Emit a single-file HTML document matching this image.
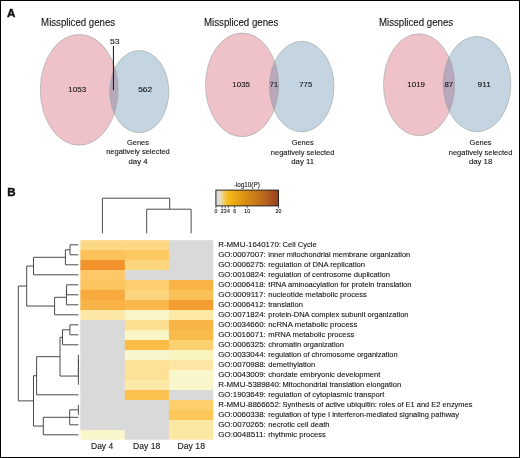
<!DOCTYPE html>
<html><head><meta charset="utf-8"><style>
html,body{margin:0;padding:0;background:#fff;width:520px;height:458px;overflow:hidden}
svg{display:block;will-change:transform}
text{font-family:"Liberation Sans", sans-serif;fill:#111;stroke:#111;stroke-width:0.1px}
</style></head><body>
<svg width="520" height="458" viewBox="0 0 520 458">
<rect width="520" height="458" fill="#fff"/>
<rect x="80.35" y="240.20" width="45.45" height="10.80" fill="#fdd886"/>
<rect x="124.80" y="240.20" width="45.10" height="10.80" fill="#fdd886"/>
<rect x="168.90" y="240.20" width="44.30" height="10.80" fill="#d9d9d9"/>
<rect x="80.35" y="250.00" width="45.45" height="11.00" fill="#fbc259"/>
<rect x="124.80" y="250.00" width="45.10" height="11.00" fill="#fdc85f"/>
<rect x="168.90" y="250.00" width="44.30" height="11.00" fill="#d9d9d9"/>
<rect x="80.35" y="260.00" width="45.45" height="11.00" fill="#f1922c"/>
<rect x="124.80" y="260.00" width="45.10" height="11.00" fill="#fdd57d"/>
<rect x="168.90" y="260.00" width="44.30" height="11.00" fill="#d9d9d9"/>
<rect x="80.35" y="270.00" width="45.45" height="11.00" fill="#fdc865"/>
<rect x="124.80" y="270.00" width="45.10" height="11.00" fill="#d9d9d9"/>
<rect x="168.90" y="270.00" width="44.30" height="11.00" fill="#d9d9d9"/>
<rect x="80.35" y="280.00" width="45.45" height="11.00" fill="#fdc55f"/>
<rect x="124.80" y="280.00" width="45.10" height="11.00" fill="#fdcf6e"/>
<rect x="168.90" y="280.00" width="44.30" height="11.00" fill="#f9b245"/>
<rect x="80.35" y="290.00" width="45.45" height="11.00" fill="#f7ab3f"/>
<rect x="124.80" y="290.00" width="45.10" height="11.00" fill="#fdd57f"/>
<rect x="168.90" y="290.00" width="44.30" height="11.00" fill="#fbc159"/>
<rect x="80.35" y="300.00" width="45.45" height="11.00" fill="#f9b246"/>
<rect x="124.80" y="300.00" width="45.10" height="11.00" fill="#fab84a"/>
<rect x="168.90" y="300.00" width="44.30" height="11.00" fill="#f59c33"/>
<rect x="80.35" y="310.00" width="45.45" height="11.00" fill="#fce8a4"/>
<rect x="124.80" y="310.00" width="45.10" height="11.00" fill="#f9f5c8"/>
<rect x="168.90" y="310.00" width="44.30" height="11.00" fill="#fde9a4"/>
<rect x="80.35" y="320.00" width="45.45" height="11.00" fill="#d9d9d9"/>
<rect x="124.80" y="320.00" width="45.10" height="11.00" fill="#fddf92"/>
<rect x="168.90" y="320.00" width="44.30" height="11.00" fill="#f9b447"/>
<rect x="80.35" y="330.00" width="45.45" height="11.00" fill="#d9d9d9"/>
<rect x="124.80" y="330.00" width="45.10" height="11.00" fill="#f9f5c6"/>
<rect x="168.90" y="330.00" width="44.30" height="11.00" fill="#fabb4c"/>
<rect x="80.35" y="340.00" width="45.45" height="11.00" fill="#d9d9d9"/>
<rect x="124.80" y="340.00" width="45.10" height="11.00" fill="#fabb47"/>
<rect x="168.90" y="340.00" width="44.30" height="11.00" fill="#fdd072"/>
<rect x="80.35" y="350.00" width="45.45" height="11.00" fill="#d9d9d9"/>
<rect x="124.80" y="350.00" width="45.10" height="11.00" fill="#f9f6ce"/>
<rect x="168.90" y="350.00" width="44.30" height="11.00" fill="#f9f3bf"/>
<rect x="80.35" y="360.00" width="45.45" height="11.00" fill="#d9d9d9"/>
<rect x="124.80" y="360.00" width="45.10" height="11.00" fill="#fde196"/>
<rect x="168.90" y="360.00" width="44.30" height="11.00" fill="#fde6a3"/>
<rect x="80.35" y="370.00" width="45.45" height="11.00" fill="#d9d9d9"/>
<rect x="124.80" y="370.00" width="45.10" height="11.00" fill="#fde196"/>
<rect x="168.90" y="370.00" width="44.30" height="11.00" fill="#f9f6cb"/>
<rect x="80.35" y="380.00" width="45.45" height="11.00" fill="#d9d9d9"/>
<rect x="124.80" y="380.00" width="45.10" height="11.00" fill="#fce9a8"/>
<rect x="168.90" y="380.00" width="44.30" height="11.00" fill="#f9f6cb"/>
<rect x="80.35" y="390.00" width="45.45" height="11.00" fill="#d9d9d9"/>
<rect x="124.80" y="390.00" width="45.10" height="11.00" fill="#fbc04d"/>
<rect x="168.90" y="390.00" width="44.30" height="11.00" fill="#d9d9d9"/>
<rect x="80.35" y="400.00" width="45.45" height="11.00" fill="#d9d9d9"/>
<rect x="124.80" y="400.00" width="45.10" height="11.00" fill="#d9d9d9"/>
<rect x="168.90" y="400.00" width="44.30" height="11.00" fill="#fdcf6c"/>
<rect x="80.35" y="410.00" width="45.45" height="11.00" fill="#d9d9d9"/>
<rect x="124.80" y="410.00" width="45.10" height="11.00" fill="#d9d9d9"/>
<rect x="168.90" y="410.00" width="44.30" height="11.00" fill="#fdc75a"/>
<rect x="80.35" y="420.00" width="45.45" height="11.00" fill="#d9d9d9"/>
<rect x="124.80" y="420.00" width="45.10" height="11.00" fill="#d9d9d9"/>
<rect x="168.90" y="420.00" width="44.30" height="11.00" fill="#fbe8a2"/>
<rect x="80.35" y="430.00" width="45.45" height="9.70" fill="#f9f6cc"/>
<rect x="124.80" y="430.00" width="45.10" height="9.70" fill="#d9d9d9"/>
<rect x="168.90" y="430.00" width="44.30" height="9.70" fill="#fbe8a2"/>
<text x="218.20" y="247.20" font-size="8.0" textLength="62.80" lengthAdjust="spacingAndGlyphs">R-MMU-1640170:</text>
<text x="282.60" y="247.20" font-size="8.0" textLength="34.00" lengthAdjust="spacingAndGlyphs">Cell Cycle</text>
<text x="218.20" y="257.16" font-size="8.0" textLength="47.60" lengthAdjust="spacingAndGlyphs">GO:0007007:</text>
<text x="268.30" y="257.16" font-size="8.0" textLength="141.80" lengthAdjust="spacingAndGlyphs">inner mitochondrial membrane organization</text>
<text x="218.20" y="267.13" font-size="8.0" textLength="47.60" lengthAdjust="spacingAndGlyphs">GO:0006275:</text>
<text x="268.30" y="267.13" font-size="8.0" textLength="96.80" lengthAdjust="spacingAndGlyphs">regulation of DNA replication</text>
<text x="218.20" y="277.09" font-size="8.0" textLength="47.60" lengthAdjust="spacingAndGlyphs">GO:0010824:</text>
<text x="268.30" y="277.09" font-size="8.0" textLength="121.70" lengthAdjust="spacingAndGlyphs">regulation of centrosome duplication</text>
<text x="218.20" y="287.06" font-size="8.0" textLength="47.60" lengthAdjust="spacingAndGlyphs">GO:0006418:</text>
<text x="268.30" y="287.06" font-size="8.0" textLength="143.20" lengthAdjust="spacingAndGlyphs">tRNA aminoacylation for protein translation</text>
<text x="218.20" y="297.02" font-size="8.0" textLength="47.60" lengthAdjust="spacingAndGlyphs">GO:0009117:</text>
<text x="268.30" y="297.02" font-size="8.0" textLength="98.60" lengthAdjust="spacingAndGlyphs">nucleotide metabolic process</text>
<text x="218.20" y="306.99" font-size="8.0" textLength="47.60" lengthAdjust="spacingAndGlyphs">GO:0006412:</text>
<text x="268.30" y="306.99" font-size="8.0" textLength="34.50" lengthAdjust="spacingAndGlyphs">translation</text>
<text x="218.20" y="316.95" font-size="8.0" textLength="47.60" lengthAdjust="spacingAndGlyphs">GO:0071824:</text>
<text x="268.30" y="316.95" font-size="8.0" textLength="140.20" lengthAdjust="spacingAndGlyphs">protein-DNA complex subunit organization</text>
<text x="218.20" y="326.92" font-size="8.0" textLength="47.60" lengthAdjust="spacingAndGlyphs">GO:0034660:</text>
<text x="268.30" y="326.92" font-size="8.0" textLength="89.00" lengthAdjust="spacingAndGlyphs">ncRNA metabolic process</text>
<text x="218.20" y="336.88" font-size="8.0" textLength="47.60" lengthAdjust="spacingAndGlyphs">GO:0016071:</text>
<text x="268.30" y="336.88" font-size="8.0" textLength="86.00" lengthAdjust="spacingAndGlyphs">mRNA metabolic process</text>
<text x="218.20" y="346.85" font-size="8.0" textLength="47.60" lengthAdjust="spacingAndGlyphs">GO:0006325:</text>
<text x="268.30" y="346.85" font-size="8.0" textLength="75.60" lengthAdjust="spacingAndGlyphs">chromatin organization</text>
<text x="218.20" y="356.81" font-size="8.0" textLength="47.60" lengthAdjust="spacingAndGlyphs">GO:0033044:</text>
<text x="268.30" y="356.81" font-size="8.0" textLength="129.40" lengthAdjust="spacingAndGlyphs">regulation of chromosome organization</text>
<text x="218.20" y="366.78" font-size="8.0" textLength="47.60" lengthAdjust="spacingAndGlyphs">GO:0070988:</text>
<text x="268.30" y="366.78" font-size="8.0" textLength="46.80" lengthAdjust="spacingAndGlyphs">demethylation</text>
<text x="218.20" y="376.75" font-size="8.0" textLength="47.60" lengthAdjust="spacingAndGlyphs">GO:0043009:</text>
<text x="268.30" y="376.75" font-size="8.0" textLength="112.10" lengthAdjust="spacingAndGlyphs">chordate embryonic development</text>
<text x="218.20" y="386.71" font-size="8.0" textLength="62.80" lengthAdjust="spacingAndGlyphs">R-MMU-5389840:</text>
<text x="282.60" y="386.71" font-size="8.0" textLength="118.50" lengthAdjust="spacingAndGlyphs">Mitochondrial translation elongation</text>
<text x="218.20" y="396.67" font-size="8.0" textLength="47.60" lengthAdjust="spacingAndGlyphs">GO:1903649:</text>
<text x="268.30" y="396.67" font-size="8.0" textLength="116.10" lengthAdjust="spacingAndGlyphs">regulation of cytoplasmic transport</text>
<text x="218.20" y="406.64" font-size="8.0" textLength="62.80" lengthAdjust="spacingAndGlyphs">R-MMU-8866652:</text>
<text x="282.60" y="406.64" font-size="8.0" textLength="189.90" lengthAdjust="spacingAndGlyphs">Synthesis of active ubiquitin: roles of E1 and E2 enzymes</text>
<text x="218.20" y="416.61" font-size="8.0" textLength="47.60" lengthAdjust="spacingAndGlyphs">GO:0060338:</text>
<text x="268.30" y="416.61" font-size="8.0" textLength="190.70" lengthAdjust="spacingAndGlyphs">regulation of type I interferon-mediated signaling pathway</text>
<text x="218.20" y="426.57" font-size="8.0" textLength="47.60" lengthAdjust="spacingAndGlyphs">GO:0070265:</text>
<text x="268.30" y="426.57" font-size="8.0" textLength="61.20" lengthAdjust="spacingAndGlyphs">necrotic cell death</text>
<text x="218.20" y="436.53" font-size="8.0" textLength="47.60" lengthAdjust="spacingAndGlyphs">GO:0048511:</text>
<text x="268.30" y="436.53" font-size="8.0" textLength="57.50" lengthAdjust="spacingAndGlyphs">rhythmic process</text>
<path d="M78.40 244.80L70.00 244.80M78.40 254.80L70.00 254.80M70.00 244.80L70.00 254.80M70.00 249.80L65.40 249.80M78.40 264.80L65.40 264.80M65.40 249.80L65.40 264.80M65.40 257.30L33.50 257.30M78.40 274.80L33.50 274.80M33.50 257.30L33.50 274.80M78.40 284.80L66.60 284.80M78.40 294.80L66.60 294.80M66.60 284.80L66.60 294.80M66.60 289.80L66.40 289.80M78.40 304.80L66.40 304.80M66.40 289.80L66.40 304.80M66.40 297.30L54.60 297.30M78.40 314.80L54.60 314.80M54.60 297.30L54.60 314.80M33.50 266.05L26.70 266.05M54.60 306.05L26.70 306.05M26.70 266.05L26.70 306.05M78.40 324.80L69.90 324.80M78.40 334.80L69.90 334.80M69.90 324.80L69.90 334.80M69.90 329.80L62.50 329.80M78.40 344.80L62.50 344.80M62.50 329.80L62.50 344.80M78.40 354.80L78.40 364.80M78.40 359.80L78.40 374.80M78.40 367.30L78.40 384.80M62.50 337.30L60.00 337.30M78.40 376.05L60.00 376.05M60.00 337.30L60.00 376.05M60.00 356.68L36.60 356.68M78.40 394.80L36.60 394.80M36.60 356.68L36.60 394.80M78.40 404.80L78.40 414.80M78.40 409.80L69.70 409.80M78.40 424.80L69.70 424.80M69.70 409.80L69.70 424.80M69.70 417.30L78.40 417.30M69.70 417.30L43.30 417.30M78.40 434.80L43.30 434.80M43.30 417.30L43.30 434.80M36.60 375.74L33.50 375.74M43.30 426.05L33.50 426.05M33.50 375.74L33.50 426.05M26.70 286.05L18.30 286.05M33.50 400.89L18.30 400.89M18.30 286.05L18.30 400.89" stroke="#4a4a4a" stroke-width="1" fill="none"/>
<path d="M102.4 233.3V198.2H169.7V209.2 M146.7 233.3V209.2H191.1V233.3" stroke="#4a4a4a" stroke-width="1" fill="none"/>
<text x="91.00" y="448.70" font-size="9.2" textLength="22.20" lengthAdjust="spacingAndGlyphs">Day 4</text>
<text x="133.10" y="448.70" font-size="9.2" textLength="27.20" lengthAdjust="spacingAndGlyphs">Day 18</text>
<text x="177.50" y="448.70" font-size="9.2" textLength="27.50" lengthAdjust="spacingAndGlyphs">Day 18</text>
<defs><linearGradient id="lg" x1="0" x2="1" y1="0" y2="0">
<stop offset="0" stop-color="#dcdcdc"/>
<stop offset="0.06" stop-color="#e2ded0"/>
<stop offset="0.13" stop-color="#f2cd62"/>
<stop offset="0.2" stop-color="#f6b918"/>
<stop offset="0.45" stop-color="#d99212"/>
<stop offset="0.75" stop-color="#bb6a1c"/>
<stop offset="1" stop-color="#9a3e24"/>
</linearGradient></defs>
<rect x="215.9" y="190.1" width="62.6" height="15.8" fill="url(#lg)" stroke="#111" stroke-width="0.9"/>
<text x="246.8" y="187.4" font-size="7.6" text-anchor="middle" textLength="26" lengthAdjust="spacingAndGlyphs">-log10(P)</text>
<text x="215.90" y="213.2" font-size="5.2" text-anchor="middle">0</text>
<text x="222.16" y="213.2" font-size="5.2" text-anchor="middle">2</text>
<text x="225.29" y="213.2" font-size="5.2" text-anchor="middle">3</text>
<text x="228.42" y="213.2" font-size="5.2" text-anchor="middle">4</text>
<text x="234.68" y="213.2" font-size="5.2" text-anchor="middle">6</text>
<text x="247.20" y="213.2" font-size="5.2" text-anchor="middle">10</text>
<text x="278.50" y="213.2" font-size="5.2" text-anchor="middle">20</text>
<path d="M215.90 206V208.3M222.16 206V208.3M225.29 206V208.3M228.42 206V208.3M234.68 206V208.3M247.20 206V208.3M278.50 206V208.3" stroke="#222" stroke-width="0.7"/>
<clipPath id="cp0"><ellipse cx="79.2" cy="89.8" rx="38.9" ry="55.4"/></clipPath>
<ellipse cx="79.2" cy="89.8" rx="38.9" ry="55.4" fill="#efc2ca"/>
<ellipse cx="139.25" cy="91.6" rx="29.55" ry="41.1" fill="#c4d5e1"/>
<ellipse cx="139.25" cy="91.6" rx="29.55" ry="41.1" fill="#b9a7bb" clip-path="url(#cp0)"/>
<ellipse cx="79.2" cy="89.8" rx="38.9" ry="55.4" fill="none" stroke="#98a29e" stroke-width="0.6"/>
<ellipse cx="139.25" cy="91.6" rx="29.55" ry="41.1" fill="none" stroke="#98a29e" stroke-width="0.6"/>
<text x="41.1" y="26.3" font-size="10.4" textLength="74" lengthAdjust="spacingAndGlyphs">Misspliced genes</text>
<text x="68.38" y="91.9" font-size="7.2" textLength="17.95" lengthAdjust="spacingAndGlyphs">1053</text>
<text x="138.18" y="92.4" font-size="7.2" textLength="14.05" lengthAdjust="spacingAndGlyphs">562</text>
<text x="138.0" y="144.9" font-size="7.8" text-anchor="middle" textLength="22" lengthAdjust="spacingAndGlyphs">Genes</text>
<text x="138.0" y="154.4" font-size="7.8" text-anchor="middle" textLength="63.6" lengthAdjust="spacingAndGlyphs">negatively selected</text>
<text x="138.0" y="163.7" font-size="7.8" text-anchor="middle">day 4</text>
<clipPath id="cp1"><ellipse cx="242.05" cy="84.85" rx="36.55" ry="51.85"/></clipPath>
<ellipse cx="242.05" cy="84.85" rx="36.55" ry="51.85" fill="#efc2ca"/>
<ellipse cx="301.7" cy="86.6" rx="32.3" ry="45.3" fill="#c4d5e1"/>
<ellipse cx="301.7" cy="86.6" rx="32.3" ry="45.3" fill="#b9a7bb" clip-path="url(#cp1)"/>
<ellipse cx="242.05" cy="84.85" rx="36.55" ry="51.85" fill="none" stroke="#98a29e" stroke-width="0.6"/>
<ellipse cx="301.7" cy="86.6" rx="32.3" ry="45.3" fill="none" stroke="#98a29e" stroke-width="0.6"/>
<text x="204.0" y="26.3" font-size="10.4" textLength="74.3" lengthAdjust="spacingAndGlyphs">Misspliced genes</text>
<text x="232.38" y="86.6" font-size="7.2" textLength="17.55" lengthAdjust="spacingAndGlyphs">1035</text>
<text x="269.88" y="86.7" font-size="7.2" textLength="8.05" lengthAdjust="spacingAndGlyphs">71</text>
<text x="299.28" y="86.6" font-size="7.2" textLength="12.95" lengthAdjust="spacingAndGlyphs">775</text>
<text x="302.65" y="145.2" font-size="7.8" text-anchor="middle" textLength="22" lengthAdjust="spacingAndGlyphs">Genes</text>
<text x="302.65" y="154.8" font-size="7.8" text-anchor="middle" textLength="63.6" lengthAdjust="spacingAndGlyphs">negatively selected</text>
<text x="302.65" y="164.3" font-size="7.8" text-anchor="middle">day 11</text>
<clipPath id="cp2"><ellipse cx="419.05" cy="84.75" rx="35.55" ry="50.95"/></clipPath>
<ellipse cx="419.05" cy="84.75" rx="35.55" ry="50.95" fill="#efc2ca"/>
<ellipse cx="476.95" cy="84.1" rx="33.85" ry="47.6" fill="#c4d5e1"/>
<ellipse cx="476.95" cy="84.1" rx="33.85" ry="47.6" fill="#b9a7bb" clip-path="url(#cp2)"/>
<ellipse cx="419.05" cy="84.75" rx="35.55" ry="50.95" fill="none" stroke="#98a29e" stroke-width="0.6"/>
<ellipse cx="476.95" cy="84.1" rx="33.85" ry="47.6" fill="none" stroke="#98a29e" stroke-width="0.6"/>
<text x="379.0" y="26.3" font-size="10.4" textLength="74.1" lengthAdjust="spacingAndGlyphs">Misspliced genes</text>
<text x="407.38" y="86.6" font-size="7.2" textLength="17.55" lengthAdjust="spacingAndGlyphs">1019</text>
<text x="444.48" y="86.7" font-size="7.2" textLength="8.75" lengthAdjust="spacingAndGlyphs">87</text>
<text x="477.58" y="86.6" font-size="7.2" textLength="13.15" lengthAdjust="spacingAndGlyphs">911</text>
<text x="480.6" y="145.4" font-size="7.8" text-anchor="middle" textLength="22" lengthAdjust="spacingAndGlyphs">Genes</text>
<text x="480.6" y="154.8" font-size="7.8" text-anchor="middle" textLength="63.6" lengthAdjust="spacingAndGlyphs">negatively selected</text>
<text x="480.6" y="164.2" font-size="7.8" text-anchor="middle">day 18</text>
<text x="109.98" y="43.9" font-size="7.2" textLength="9.65" lengthAdjust="spacingAndGlyphs">53</text>
<path d="M113.4 45.9V90.2" stroke="#111" stroke-width="1"/>
<text x="6.9" y="17.4" font-size="11.6" font-weight="bold" style="stroke-width:0.4px">A</text>
<text x="7.35" y="196.0" font-size="11.6" font-weight="bold" style="stroke-width:0.4px">B</text>
<rect x="0.5" y="0.5" width="519" height="457" fill="none" stroke="#000" stroke-width="1"/>
</svg>
</body></html>
